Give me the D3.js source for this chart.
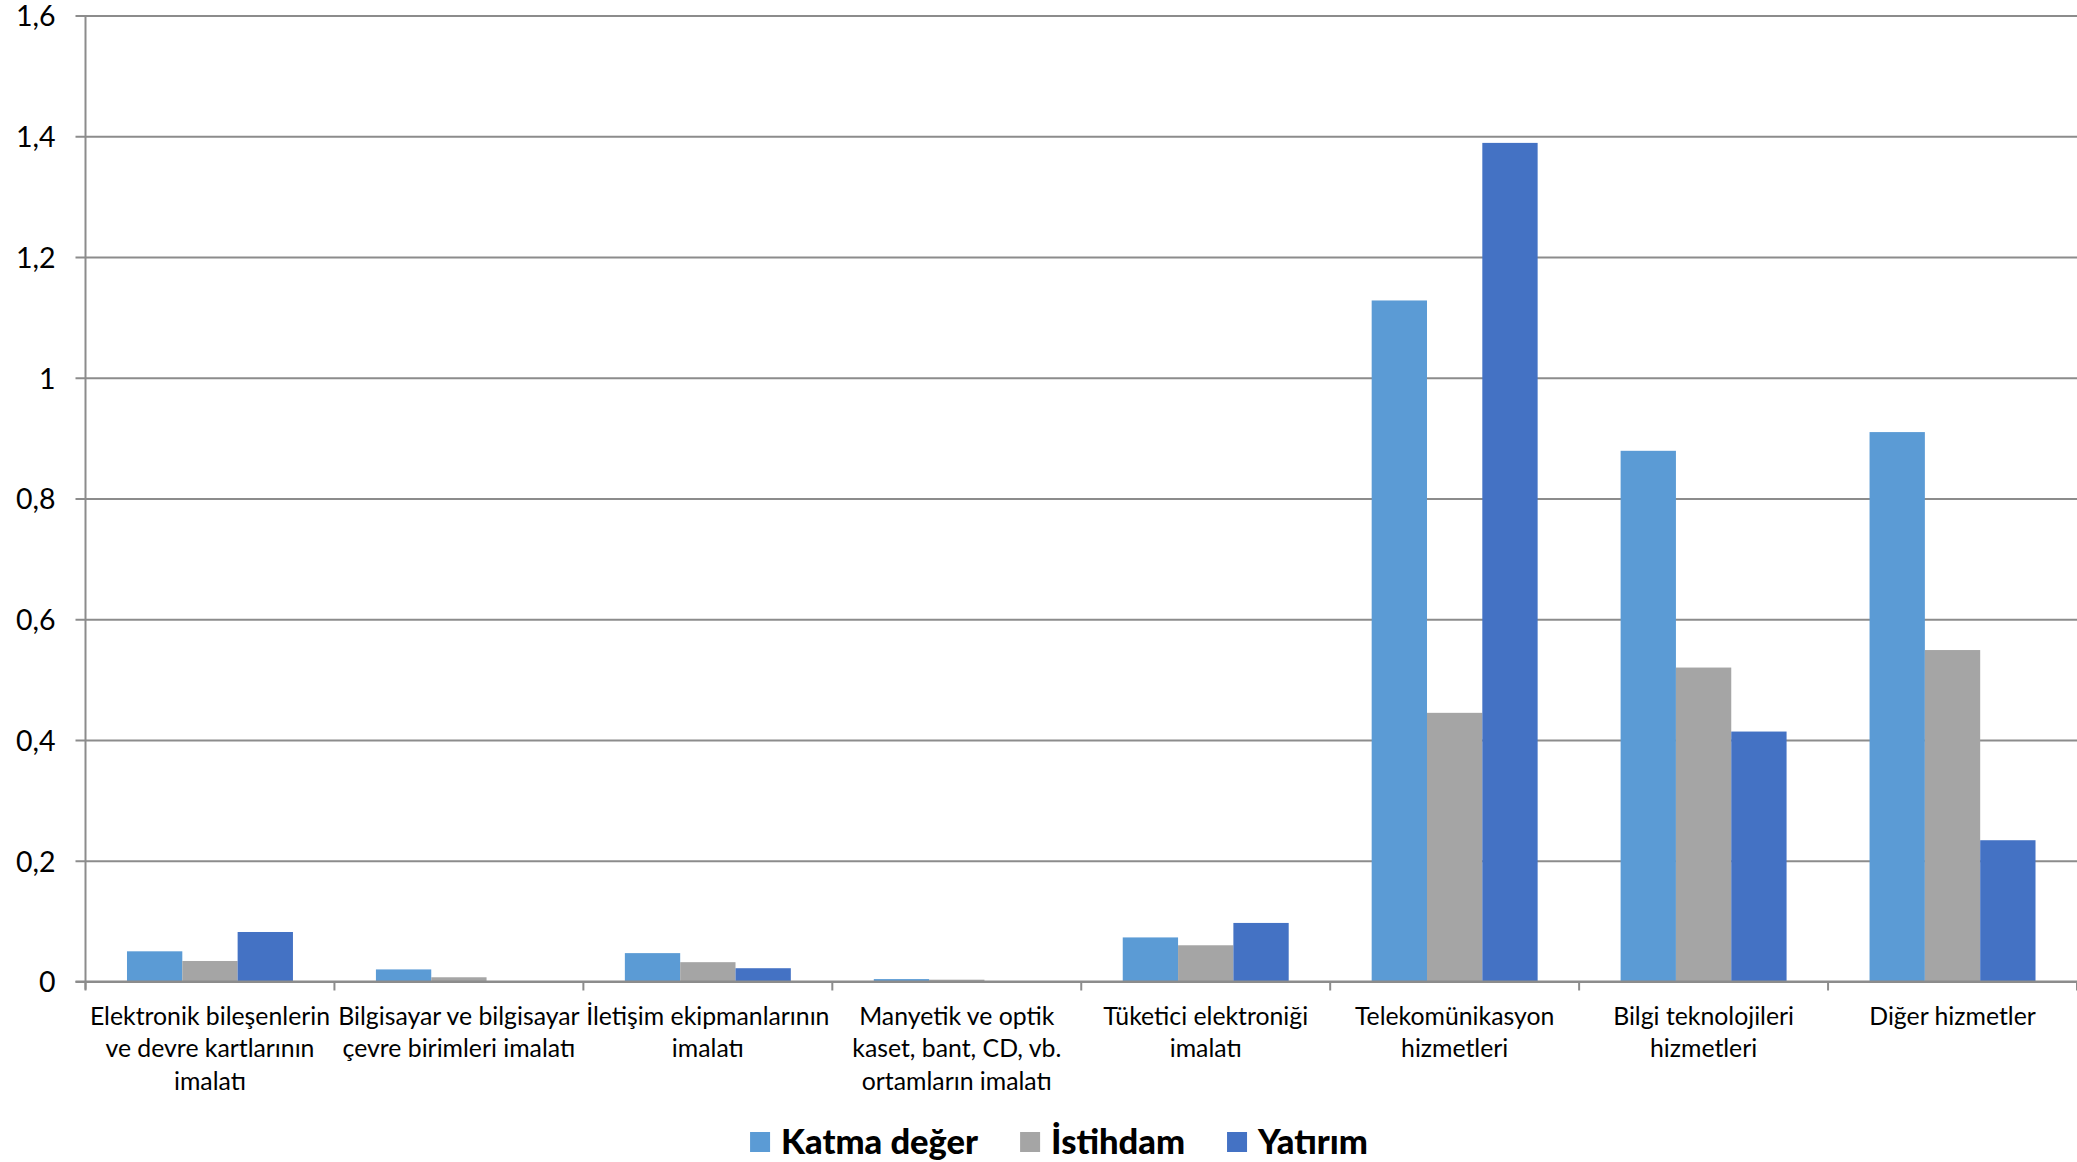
<!DOCTYPE html>
<html lang="tr">
<head>
<meta charset="utf-8">
<script src="https://cdn.jsdelivr.net/npm/d3@7/dist/d3.min.js"></script>
<style>
  html, body { margin: 0; padding: 0; background: #ffffff; }
  svg { display: block; font-family: Lato, "Open Sans", sans-serif; }
</style>
</head>
<body>
<svg id="chart" width="2077" height="1162"></svg>
<script>
// Sector categories (x axis), each label split into its display lines
const categories = [
  ["Elektronik bileşenlerin", "ve devre kartlarının", "imalatı"],
  ["Bilgisayar ve bilgisayar", "çevre birimleri imalatı"],
  ["İletişim ekipmanlarının", "imalatı"],
  ["Manyetik ve optik", "kaset, bant, CD, vb.", "ortamların imalatı"],
  ["Tüketici elektroniği", "imalatı"],
  ["Telekomünikasyon", "hizmetleri"],
  ["Bilgi teknolojileri", "hizmetleri"],
  ["Diğer hizmetler"]
];

const seriesNames = ["Katma değer", "İstihdam", "Yatırım"];
const seriesColors = ["#5B9BD5", "#A5A5A5", "#4472C4"];

const katmaDeger = [0.050, 0.020, 0.047, 0.004, 0.073, 1.128, 0.879, 0.910];
const istihdam   = [0.034, 0.007, 0.032, 0.003, 0.060, 0.445, 0.520, 0.549];
const yatirim    = [0.082, 0.000, 0.022, 0.000, 0.097, 1.389, 0.414, 0.234];

const yTicks = [0, 0.2, 0.4, 0.6, 0.8, 1, 1.2, 1.4, 1.6];

const seriesValues = [katmaDeger, istihdam, yatirim];

const svg = d3.select("#chart");
const W = 2077, H = 1162;
const plotLeft = 85.5, plotRight = W, plotTop = 15.5, plotBottom = 981.5;

const gridColor = "#8c8c8c";

// Turkish number format: decimal comma
const trLocale = d3.formatLocale({ decimal: ",", thousands: ".", grouping: [3], currency: ["", " ₺"] });
const fmt = trLocale.format("~g");

const x0 = d3.scaleBand()
  .domain(d3.range(categories.length))
  .range([plotLeft, plotRight])
  .paddingInner(0)
  .paddingOuter(0);

const x1 = d3.scaleBand()
  .domain(d3.range(seriesNames.length))
  .range([0, x0.bandwidth()])
  .paddingInner(0)
  .paddingOuter(0.75);

const y = d3.scaleLinear().domain([0, 1.6]).range([plotBottom, plotTop]);

// Horizontal gridlines with short ticks left of the axis
const yAxis = d3.axisLeft(y)
  .tickValues(yTicks)
  .tickSize(-(plotRight - plotLeft))
  .tickFormat(fmt)
  .tickPadding(0);

const gy = svg.append("g")
  .attr("transform", `translate(${plotLeft},0)`)
  .call(yAxis);
gy.select(".domain").remove();
gy.selectAll(".tick line")
  .attr("x1", -10)
  .attr("x2", plotRight - plotLeft)
  .attr("stroke", gridColor)
  .attr("stroke-width", 2);
gy.selectAll(".tick text")
  .attr("x", -30)
  .attr("dy", "0.36em")
  .attr("fill", "#000")
  .attr("font-size", 28.5)
  .attr("font-family", "Lato, 'Open Sans', sans-serif");

// Vertical value axis line
svg.append("line")
  .attr("x1", plotLeft).attr("x2", plotLeft)
  .attr("y1", plotTop).attr("y2", plotBottom + 8)
  .attr("stroke", gridColor).attr("stroke-width", 2);

// Bars
const groups = svg.append("g").selectAll("g")
  .data(categories.map((c, i) => i))
  .join("g")
  .attr("transform", i => `translate(${x0(i)},0)`);

groups.selectAll("rect")
  .data(i => seriesValues.map((vals, s) => ({ s, v: vals[i] })))
  .join("rect")
  .attr("x", d => x1(d.s))
  .attr("width", x1.bandwidth())
  .attr("y", d => y(d.v))
  .attr("height", d => y(0) - y(d.v))
  .attr("fill", d => seriesColors[d.s]);

// Category axis (baseline + tick marks between categories)
svg.append("line")
  .attr("x1", plotLeft - 10).attr("x2", plotRight)
  .attr("y1", y(0)).attr("y2", y(0))
  .attr("stroke", gridColor).attr("stroke-width", 2);

const boundaries = d3.range(categories.length + 1).map(i => plotLeft + i * x0.step());
svg.append("g").selectAll("line")
  .data(boundaries)
  .join("line")
  .attr("x1", d => d).attr("x2", d => d)
  .attr("y1", y(0)).attr("y2", y(0) + 9)
  .attr("stroke", gridColor).attr("stroke-width", 2);

// Category labels
const lineH = 32.5;
const labels = svg.append("g")
  .attr("font-size", 24.8)
  .attr("fill", "#000")
  .attr("text-anchor", "middle");

categories.forEach((lines, i) => {
  const t = labels.append("text")
    .attr("x", x0(i) + x0.bandwidth() / 2)
    .attr("y", 1016);
  lines.forEach((ln, k) => {
    t.append("tspan")
      .attr("x", x0(i) + x0.bandwidth() / 2)
      .attr("y", 1016 + k * lineH)
      .attr("dy", "0.35em")
      .text(ln);
  });
});

// Legend
const legend = svg.append("g");
const legendY = 1142;
const sw = 20, textGap = 11, itemGap = 42;
let cursor = 0;
seriesNames.forEach((name, s) => {
  const g = legend.append("g");
  g.append("rect")
    .attr("x", 0).attr("y", legendY - sw / 2)
    .attr("width", sw).attr("height", sw)
    .attr("fill", seriesColors[s]);
  const txt = g.append("text")
    .attr("x", sw + textGap)
    .attr("y", legendY)
    .attr("dy", "0.36em")
    .attr("font-size", 34.5)
    .attr("font-weight", 900)
    .attr("fill", "#000")
    .text(name);
  const w = sw + textGap + txt.node().getComputedTextLength();
  g.attr("transform", `translate(${cursor},0)`);
  cursor += w + itemGap;
});
const legendWidth = cursor - itemGap;
legend.attr("transform", `translate(${1059 - legendWidth / 2},0)`);
</script>
</body>
</html>
